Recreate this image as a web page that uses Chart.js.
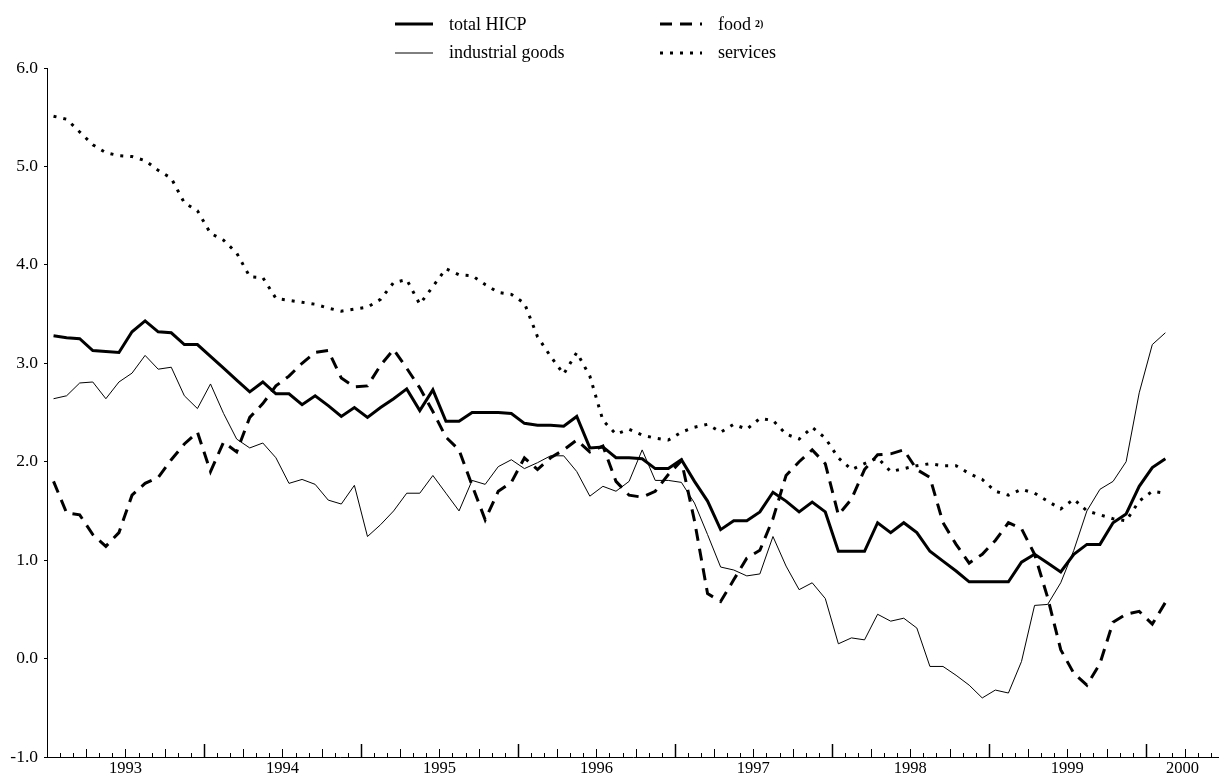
<!DOCTYPE html>
<html>
<head>
<meta charset="utf-8">
<script src="https://cdn.jsdelivr.net/npm/chart.js@4.4.1/dist/chart.umd.min.js"></script>
<style>
  body { margin: 0; background: #fff; }
  #wrap { position: relative; width: 1219px; height: 776px; }
  #chart { position: absolute; left: 0; top: 0; }
  .leg { position: absolute; height: 20px; display: flex; align-items: center; white-space: nowrap;
         font-family: "Liberation Serif", "Times New Roman", serif; font-size: 18px; color: #000; }
  .leg svg { margin-right: 16px; }
  .leg sup { font-size: 10px; font-weight: bold; margin-left: 4px; position: relative; top: -1px; }
</style>
</head>
<body>
<div id="wrap">
  <canvas id="chart" width="1219" height="776"></canvas>
</div>
<script>
// monthly data, Jan 1993 - Feb 2000 (annual % changes)
const hicp = [3.28,3.26,3.25,3.13,3.12,3.11,3.32,3.43,3.32,3.31,
  3.19,3.19,3.07,2.95,2.83,2.71,2.81,2.69,2.69,2.58,
  2.67,2.57,2.46,2.55,2.45,2.55,2.64,2.74,2.52,2.73,
  2.41,2.41,2.50,2.50,2.50,2.49,2.39,2.37,2.37,2.36,
  2.46,2.14,2.15,2.04,2.04,2.03,1.93,1.93,2.02,1.80,
  1.60,1.31,1.40,1.40,1.49,1.69,1.60,1.49,1.59,1.49,
  1.09,1.09,1.09,1.38,1.28,1.38,1.28,1.09,0.99,0.89,
  0.78,0.78,0.78,0.78,0.98,1.06,0.97,0.88,1.06,1.16,
  1.16,1.38,1.47,1.75,1.94,2.03];

const industrial = [2.64,2.67,2.80,2.81,2.64,2.81,2.90,3.08,2.94,2.96,
  2.67,2.54,2.79,2.49,2.23,2.14,2.19,2.04,1.78,1.82,
  1.77,1.61,1.57,1.76,1.24,1.36,1.50,1.68,1.68,1.86,
  1.68,1.50,1.81,1.77,1.95,2.02,1.93,1.99,2.06,2.06,
  1.90,1.65,1.75,1.70,1.80,2.12,1.81,1.81,1.79,1.58,
  1.26,0.93,0.90,0.84,0.86,1.24,0.94,0.70,0.77,0.61,
  0.15,0.21,0.19,0.45,0.38,0.41,0.31,-0.08,-0.08,-0.17,
  -0.27,-0.40,-0.32,-0.35,-0.03,0.54,0.55,0.77,1.10,1.50,
  1.72,1.80,2.00,2.70,3.19,3.31];

const food = [1.80,1.48,1.46,1.26,1.14,1.28,1.66,1.78,1.84,2.02,
  2.18,2.30,1.90,2.20,2.10,2.45,2.59,2.77,2.87,3.00,
  3.11,3.13,2.85,2.76,2.77,2.98,3.14,2.95,2.75,2.51,
  2.25,2.12,1.76,1.41,1.70,1.79,2.04,1.92,2.04,2.12,
  2.22,2.10,2.16,1.80,1.66,1.64,1.70,1.87,2.01,1.40,
  0.66,0.58,0.80,1.02,1.10,1.42,1.86,2.00,2.12,1.98,
  1.46,1.62,1.92,2.07,2.08,2.12,1.92,1.84,1.38,1.16,
  0.97,1.06,1.20,1.38,1.32,1.06,0.62,0.09,-0.15,-0.27,
  -0.05,0.37,0.45,0.48,0.35,0.57];

const services = [5.51,5.48,5.35,5.22,5.14,5.11,5.10,5.06,4.96,4.88,
  4.63,4.55,4.32,4.25,4.12,3.88,3.87,3.66,3.64,3.62,
  3.60,3.56,3.53,3.55,3.57,3.65,3.82,3.85,3.60,3.78,
  3.96,3.90,3.89,3.80,3.72,3.70,3.61,3.27,3.07,2.89,
  3.11,2.87,2.42,2.28,2.33,2.27,2.24,2.22,2.30,2.35,
  2.38,2.30,2.38,2.33,2.44,2.42,2.28,2.23,2.35,2.24,
  2.04,1.92,1.98,2.04,1.90,1.93,1.96,1.98,1.96,1.96,
  1.88,1.82,1.70,1.66,1.72,1.68,1.60,1.52,1.62,1.50,
  1.46,1.42,1.40,1.60,1.70,1.68];

// x axis: months counted from Jan 1993, year labels between the year ticks
const yearLabels = ['1993','1994','1995','1996','1997','1998','1999','2000'];
const yearLabelPos = [6, 18, 30, 42, 54, 66, 78, 86.8];
const monthsShown = 89.6;

const toPoints = arr => arr.map((v, i) => ({ x: i + 0.5, y: v }));

const datasets = [
  { label: 'total HICP', data: toPoints(hicp), borderWidth: 3, borderDash: [] },
  { label: 'food', note: '2)', data: toPoints(food), borderWidth: 3, borderDash: [12, 8] },
  { label: 'industrial goods', data: toPoints(industrial), borderWidth: 1, borderDash: [] },
  { label: 'services', data: toPoints(services), borderWidth: 3, borderDash: [3, 7] }
].map(d => Object.assign({
  borderColor: '#000', pointRadius: 0, tension: 0, fill: false,
  borderCapStyle: 'butt', borderJoinStyle: 'miter'
}, d));

// small month / quarter / year tick marks on the x axis
const monthTicks = {
  id: 'monthTicks',
  afterDraw(chart) {
    const xs = chart.scales.x, ctx = chart.ctx;
    const y0 = chart.chartArea.bottom;
    ctx.save();
    ctx.strokeStyle = '#000';
    for (let m = 1; m <= Math.floor(monthsShown); m++) {
      const x = Math.round(xs.getPixelForValue(m)) + 0.5;
      let len = 4, w = 1;
      if (m % 12 === 0) { len = 13; w = 1.5; }
      else if (m % 3 === 0) { len = 8; }
      ctx.lineWidth = w;
      ctx.beginPath();
      ctx.moveTo(x, y0);
      ctx.lineTo(x, y0 - len);
      ctx.stroke();
    }
    ctx.restore();
  }
};

const config = {
  type: 'line',
  data: { datasets },
  options: {
    responsive: false,
    animation: false,
    layout: { padding: { top: 68, right: 0, bottom: 0, left: 0 } },
    plugins: { legend: { display: false }, tooltip: { enabled: false } },
    scales: {
      x: {
        type: 'linear',
        min: 0,
        max: monthsShown,
        afterFit: s => { s.height = 19; },
        afterBuildTicks: s => { s.ticks = yearLabelPos.map(v => ({ value: v })); },
        ticks: {
          autoSkip: false, maxRotation: 0, padding: 2, color: '#000',
          font: { family: 'Liberation Serif', size: 16.5 },
          callback: (v, i) => yearLabels[i]
        },
        grid: { display: false, drawTicks: false },
        border: { display: true, color: '#000', width: 1 }
      },
      y: {
        min: -1,
        max: 6,
        afterFit: s => { s.width = 47; },
        ticks: {
          stepSize: 1, padding: 6, color: '#000',
          font: { family: 'Liberation Serif', size: 17.5 },
          callback: v => v.toFixed(1)
        },
        grid: { display: true, drawOnChartArea: false, drawTicks: true, tickLength: 3, color: '#000' },
        border: { display: true, color: '#000', width: 1 }
      }
    }
  },
  plugins: [monthTicks]
};

const chart = new Chart(document.getElementById('chart'), config);

// legend in two columns above the plot
const legendSlots = [
  { left: 395, top: 14, sample: 38 },
  { left: 660, top: 14, sample: 42 },
  { left: 395, top: 42.5, sample: 38 },
  { left: 660, top: 42.5, sample: 42 }
];
const wrap = document.getElementById('wrap');
datasets.forEach((d, i) => {
  const slot = legendSlots[i];
  const item = document.createElement('div');
  item.className = 'leg';
  item.style.left = slot.left + 'px';
  item.style.top = slot.top + 'px';
  const dash = d.borderDash.length ? d.borderDash.join(' ') : 'none';
  item.innerHTML =
    '<svg width="' + slot.sample + '" height="8"><line x1="0" y1="4" x2="' + slot.sample +
    '" y2="4" stroke="#000" stroke-width="' + d.borderWidth + '" stroke-dasharray="' + dash + '"/></svg>' +
    '<span>' + d.label + '</span>' + (d.note ? '<sup>' + d.note + '</sup>' : '');
  wrap.appendChild(item);
});
</script>
</body>
</html>
